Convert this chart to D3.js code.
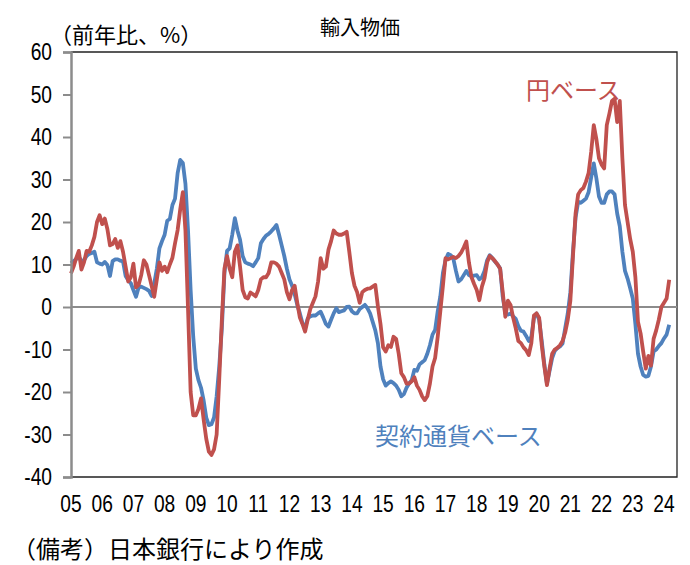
<!DOCTYPE html>
<html>
<head>
<meta charset="utf-8">
<script src="https://cdn.jsdelivr.net/npm/d3@7"></script>
<style>
  body { margin: 0; background: #fff; }
  svg { display: block; }
  .jp { font-family: "Noto Sans CJK JP", "Noto Sans", sans-serif; }
  .num { font-family: "Liberation Sans", Arial, sans-serif; }
</style>
</head>
<body>
<svg id="chart" width="690" height="565"></svg>
<script>
// monthly, from 2005/01
const START_YEAR = 2005;
const yenBasis = [
  7.9, 9.5, 11.5, 13.2, 8.8, 10.5, 13.2, 13.0, 14.5, 16.5, 20, 21.6,
  19.5, 20.8, 18.3, 14.5, 14.8, 16.0, 13.9, 15.5, 13, 9.5, 6, 7,
  10.2, 4.6, 5.2, 7.5, 11, 10, 7.5, 5, 2.4, 6.5, 10.5, 8.5,
  9.5, 8.2, 10, 11.6, 15, 18.1, 23, 27, 18, -0.5, -20, -25.5,
  -25.5, -24, -21.5, -26.5, -31, -34, -34.8, -33.5, -30, -17, -3, 9,
  12, 9, 7, 13, 14.5, 9.5, 4, 2.3, 2, 3.4, 3, 2.5,
  4, 6.5, 7, 7, 8, 10.5, 10.5, 10.2, 9.5, 8, 6.5, 3.5,
  1.8, 4, 5, 1, -2.5, -4, -5.8, -3, -0.5, 1, 2.5, 6,
  11.5, 9, 9.5, 13.5, 15.5, 18, 17.3, 17, 17, 17.3, 17.7, 13,
  8, 5, 3.5, 1, 3.5, 4, 4.3, 4.4, 4.8, 5.2, 0.2, -4,
  -9.5, -10.5, -9, -9.4, -7, -7.5, -11, -15.6, -16.5, -18, -18, -17.5,
  -16.5, -18.5, -19.5, -21, -21.9, -21, -18, -14, -12, -7, -1, 5,
  11.5, 11.2, 11.5, 11.8, 11.5, 12, 12.8, 14, 15.4, 10.5, 7, 5.4,
  4, 1.6, 4.8, 6.8, 10.5, 12, 11.5, 10.8, 10, 9, 3.5, -2.3,
  1.5, 0.5, -2.5, -5, -8, -8.5, -9.5, -10.2, -11.3, -8.5, -2, -1.5,
  -2.5, -9, -14, -18.4, -14.5, -11, -10, -9.6, -9, -8, -6, -3,
  1.5, 12, 22, 26.5, 27.5, 28, 29.5, 31.5, 36.5, 42.8, 39.5, 35,
  33.5, 32.6, 42.8, 45.5, 48.5, 49, 43.5, 48.5, 35, 24, 20, 16,
  13, 7, -3.5, -6.2, -10.5, -14.5, -11.5, -13.8, -7.5, -5.5, -3, 0,
  1, 2, 6.4
];
const contractBasis = [
  10.3, 10.8, 11.3, 11.8, 10.8, 11, 12, 12.5, 12.7, 13, 10.5, 10.2,
  10, 10.6, 9.9, 7.3, 10.8, 11.2, 11.2, 10.9, 10.7, 7.3, 6.3, 5.6,
  4, 2.4, 4.6, 4.8, 4.5, 4.2, 3.8, 2.6, 5.5, 9, 13.8, 15.5,
  17, 20.3, 20.7, 24, 25.5, 31.5, 34.6, 33.9, 29, 18, 4, -7,
  -14.5, -17.2, -19, -22, -26, -27.8, -27.6, -26, -21, -14, -5, 8,
  13.2, 13.8, 17, 20.9, 18, 15.8, 12, 10.5, 10.2, 10, 9.6, 10.5,
  11.5, 15, 16, 16.8, 17.2, 17.8, 18.5, 19.3, 17, 14.5, 12, 9,
  6.5, 5, 3, 0.5, -1.5, -3.8, -5, -2.7, -2.2, -2, -2, -1.5,
  -1.1, -2.5, -4, -4.6, -3, -1.5, -0.3, -1.2, -1, -0.8, 0, 0.1,
  -1, -1.5, -1.5, -0.5, 0, 0.5, -0.3, -1.5, -3.5, -5.5, -8.5, -14,
  -17, -18.5, -17.9, -17.5, -17.9, -18.5, -19.5, -21, -20.5, -19, -18, -17.2,
  -14.8, -15, -13.5, -13, -12.5, -11, -9, -6.5, -5.4, -1, 2.5, 8,
  11, 12.5, 12.2, 11.4, 8.5, 6, 6.5, 7.5, 8.5, 7.5, 7.2, 7.4,
  7.5, 6.5, 7, 8.5, 11, 12.2, 11.5, 10.7, 10, 9.1, 2.4, -1.5,
  -1.8, -1.5, -2.2, -2.8, -4.5, -5.6, -5.8, -6.8, -8, -7, -2.5, -1.5,
  -3, -8, -13.5, -18, -15, -12, -10.3, -9.7, -9.3, -8.6, -5, -1.5,
  3.5, 13, 21, 24.8, 24.5, 25, 25.5, 27, 30.5, 33.8, 30.3, 26,
  24.5, 24.5, 26.5, 27.2, 27.2, 26.5, 22, 19, 13, 8.5, 6.7, 4.4,
  2, -4, -11, -14, -16, -16.4, -16.2, -14, -10.5, -10, -9.2, -8.5,
  -7.4, -6.5, -4.2
];
const yearLabels = ["05","06","07","08","09","10","11","12","13","14",
                    "15","16","17","18","19","20","21","22","23","24"];
const yTicks = [-40, -30, -20, -10, 0, 10, 20, 30, 40, 50, 60];

const RED  = "#c0504d";
const BLUE = "#4f81bd";
const PLOT = { left: 71, right: 677, top: 52, bottom: 477 };
const N_MONTHS = 233;
const NARROW = 0.8;   // digits in the original are tall and narrow

const svg = d3.select("#chart");

const x = d3.scaleLinear().domain([0, N_MONTHS]).range([PLOT.left, PLOT.right]);
const y = d3.scaleLinear().domain([-40, 60]).range([PLOT.bottom, PLOT.top]);

// frame (top, right, bottom)
svg.append("path")
  .attr("d", `M${PLOT.left},${PLOT.top}H${PLOT.right}V${PLOT.bottom}H${PLOT.left}`)
  .attr("fill", "none")
  .attr("stroke", "#222")
  .attr("stroke-width", 1.3);

// zero line
svg.append("line")
  .attr("x1", PLOT.left).attr("x2", PLOT.right)
  .attr("y1", y(0)).attr("y2", y(0))
  .attr("stroke", "#8c8c8c")
  .attr("stroke-width", 2);

const line = d3.line()
  .x((d, i) => x(i))
  .y(d => y(d));

[[contractBasis, BLUE], [yenBasis, RED]].forEach(([vals, col]) => {
  svg.append("path")
    .datum(vals)
    .attr("fill", "none")
    .attr("stroke", col)
    .attr("stroke-width", 3.8)
    .attr("stroke-linejoin", "round")
    .attr("d", line);
});

// y axis
const yAxis = svg.append("g")
  .attr("transform", `translate(${PLOT.left},0)`)
  .call(d3.axisLeft(y).tickValues(yTicks).tickSize(8).tickPadding(10).tickFormat(d => String(d)));
yAxis.select(".domain").attr("stroke", "#8c8c8c").attr("stroke-width", 2.5);
yAxis.selectAll(".tick line").attr("stroke", "#8c8c8c").attr("stroke-width", 2);
yAxis.selectAll("text")
  .attr("class", "num")
  .attr("font-size", 24)
  .attr("fill", "#000")
  .attr("x", -19 / NARROW)
  .attr("transform", `scale(${NARROW},1)`);

// x labels
svg.append("g")
  .attr("transform", `scale(${NARROW},1)`)
  .selectAll("text")
  .data(yearLabels)
  .join("text")
    .attr("class", "num")
    .attr("x", (d, i) => x(i * 12) / NARROW)
    .attr("y", 512)
    .attr("text-anchor", "middle")
    .attr("font-size", 24)
    .text(d => d);

// texts
svg.append("text").attr("class", "jp")
  .attr("x", 360).attr("y", 35)
  .attr("text-anchor", "middle")
  .attr("font-size", 20)
  .text("輸入物価");

svg.append("text").attr("class", "jp")
  .attr("x", 50).attr("y", 43)
  .attr("font-size", 22)
  .text("（前年比、%）");

svg.append("text").attr("class", "jp")
  .attr("x", 526).attr("y", 99)
  .attr("font-size", 24)
  .attr("fill", RED)
  .text("円ベース");

svg.append("text").attr("class", "jp")
  .attr("x", 375).attr("y", 445)
  .attr("font-size", 24)
  .attr("fill", BLUE)
  .text("契約通貨ベース");

svg.append("text").attr("class", "jp")
  .attr("x", 12).attr("y", 558)
  .attr("font-size", 24)
  .text("（備考）日本銀行により作成");
</script>
</body>
</html>
